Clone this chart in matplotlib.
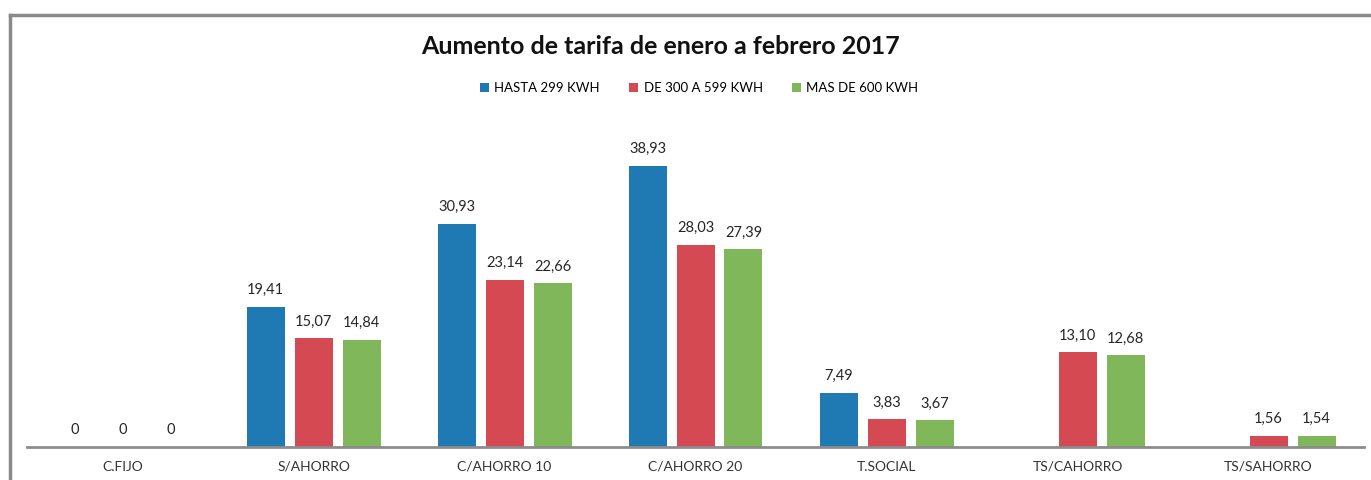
import numpy as np
import matplotlib.pyplot as plt
from matplotlib.lines import Line2D

plt.rcParams['font.family'] = ['Lato', 'DejaVu Sans']

categories = ['C.FIJO', 'S/AHORRO', 'C/AHORRO 10', 'C/AHORRO 20',
              'T.SOCIAL', 'TS/CAHORRO', 'TS/SAHORRO']
series_names = ['HASTA 299 KWH', 'DE 300 A 599 KWH', 'MAS DE 600 KWH']
hasta_299 = [0, 19.41, 30.93, 38.93, 7.49, np.nan, np.nan]
de_300_599 = [0, 15.07, 23.14, 28.03, 3.83, 13.10, 1.56]
mas_600 = [0, 14.84, 22.66, 27.39, 3.67, 12.68, 1.54]
colors = ['#1f7ab4', '#d54a52', '#7fb75a']

W, H = 1371, 480
fig = plt.figure(figsize=(W / 100, H / 100), dpi=100)
ax = fig.add_axes([27 / W, 33 / H, (1364 - 27) / W, 325 / H])

x = np.arange(len(categories))
offset = 48 / 191
width = 38 / 191
for i, (vals, name, c) in enumerate(zip([hasta_299, de_300_599, mas_600], series_names, colors)):
    xs = x + (i - 1) * offset
    ax.bar(xs, vals, width, color=c, label=name)
    # value labels, skipping the missing bars
    for xi, v in zip(xs, vals):
        if np.isnan(v):
            continue
        lab = '0' if v == 0 else f'{v:.2f}'.replace('.', ',')
        ax.annotate(lab, (xi, v), xytext=(0, 7), textcoords='offset points',
                    ha='center', va='bottom', fontsize=10.5, color='#262626')

ax.set_xlim(-0.5, len(categories) - 0.5)
ax.set_ylim(0, 45)
ax.set_xticks(x)
ax.set_xticklabels(categories, fontsize=10, color='#333333')
ax.tick_params(axis='x', length=0, pad=10)
ax.set_yticks([])
for s in ['top', 'right', 'left']:
    ax.spines[s].set_visible(False)
ax.spines['bottom'].set_color('#8c8c8c')
ax.spines['bottom'].set_linewidth(2)

fig.text(661 / W, 1 - 46 / H, 'Aumento de tarifa de enero a febrero 2017',
         ha='center', va='center', fontsize=18, fontweight='bold', color='#111111')

fig.legend(loc='center', bbox_to_anchor=(699 / W, 1 - 88 / H), ncol=3,
           frameon=False, fontsize=9.5, handlelength=0.7, handleheight=0.7,
           handletextpad=0.4, columnspacing=2.2)

# outer chart border (left and top edges visible)
fig.add_artist(Line2D([10 / W, 10 / W], [0, 1 - 14.5 / H], transform=fig.transFigure,
                      color='#8a8a8a', linewidth=2.5))
fig.add_artist(Line2D([10 / W, 1], [1 - 14.5 / H, 1 - 14.5 / H], transform=fig.transFigure,
                      color='#8a8a8a', linewidth=2.5))

fig.savefig('out.png', dpi=100)
